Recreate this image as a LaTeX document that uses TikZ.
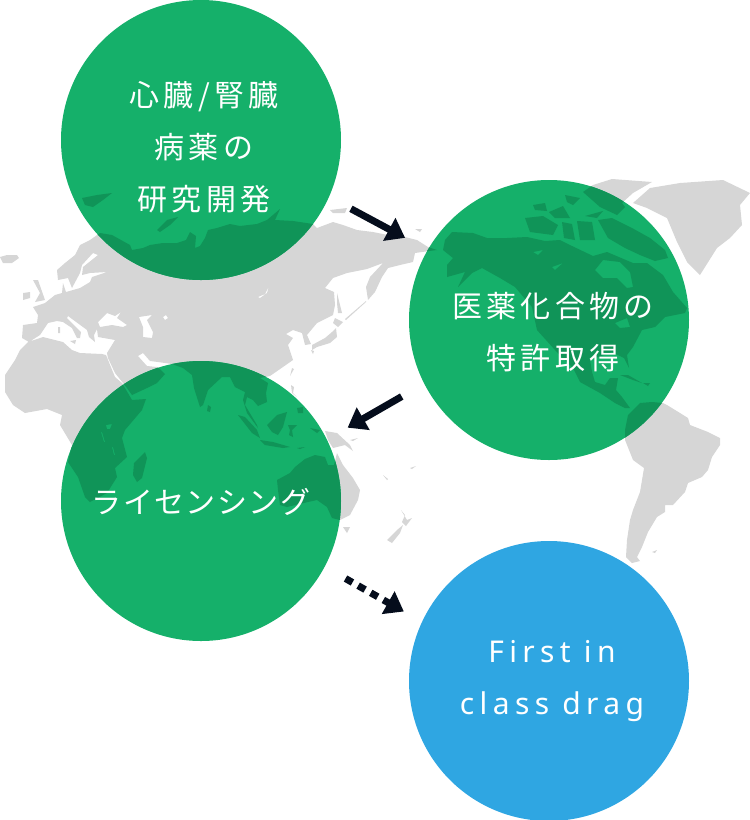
\documentclass[tikz,border=0pt]{standalone}
\usepackage{fontspec}
\usetikzlibrary{arrows.meta}
\newfontfamily\jpfont[LetterSpace=14.5]{Noto Sans CJK JP}
\newfontfamily\jpkanafont[LetterSpace=4.5]{Noto Sans CJK JP}
\newfontfamily\enfont[LetterSpace=18]{Noto Sans}
\definecolor{inkland}{HTML}{D6D6D6}
\definecolor{inkball}{HTML}{15B06A}
\definecolor{inkballdark}{HTML}{109458}
\definecolor{inkfirst}{HTML}{2FA6E2}
\definecolor{inkarrow}{HTML}{050D1C}
\newcommand{\ballnode}[3]{%
  \node[circle, fill=#3, minimum size=280pt, inner sep=0pt, outer sep=0pt] (#1) at (#2) {};}
\newcommand{\worldmap}[1]{%
  \fill[#1, even odd rule]
  (23,325) -- (37,323) -- (38,315) -- (33,307) -- (45,303) -- (55,295) -- (62,293) -- (63,283) -- (66,292) -- (80,288) -- (90,282) -- (92,277) -- (107,272) -- (90,273) -- (82,275) -- (83,267) -- (98,255) -- (93,253) -- (82,265) -- (80,273) -- (72,288) -- (68,278) -- (58,280) -- (57,270) -- (65,263) -- (75,255) -- (80,245) -- (90,240) -- (100,233) -- (112,235) -- (130,245) -- (132,250)
  -- (143,248) -- (150,245) -- (163,243) -- (177,243) -- (186,240) -- (190,232) -- (196,236) -- (195,248) -- (200,246) -- (205,238) -- (208,230) -- (217,228) -- (230,224) -- (240,226) -- (257,224) -- (267,220) -- (280,209) -- (275,220) -- (293,221) -- (313,224)
  -- (317,228) -- (333,222) -- (343,225) -- (357,230) -- (373,232) -- (393,236) -- (405,237) -- (417,240) -- (428,247) -- (437,250) -- (422,252) -- (415,253) -- (413,262) -- (400,265) -- (388,268) -- (382,277) -- (375,292) -- (368,300) -- (366,287) -- (370,277) -- (383,263) -- (367,269) -- (347,273) -- (333,278) -- (325,288) -- (334,292) -- (335,305) -- (333,315) -- (317,323) -- (307,335) -- (311,344) -- (305,345) -- (302,333) -- (293,330) -- (286,334) -- (293,338) -- (288,345) -- (293,360) -- (283,367) -- (270,376) -- (260,378) -- (268,383) -- (266,393) -- (267,402) -- (258,406) -- (253,400) -- (247,397) -- (245,405) -- (257,425) -- (258,428) -- (247,413) -- (243,400) -- (245,392) -- (235,387) -- (230,377) -- (222,377) -- (208,390) -- (203,405) -- (200,407) -- (194,388) -- (192,375) -- (183,368) -- (172,364) -- (158,362) -- (150,361) -- (143,353) -- (138,356) -- (147,366) -- (157,367) -- (160,369) -- (165,374) -- (157,383) -- (147,388) -- (132,395) -- (127,388) -- (115,373) -- (108,358) -- (107,353) -- (115,340) -- (98,337) -- (97,329) -- (94,335) -- (95,342) -- (89,337) -- (87,330) -- (68,316) -- (67,318) -- (81,332) -- (80,338) -- (77,338) -- (72,328) -- (63,322) -- (57,321) -- (48,323) -- (40,335) -- (29,342) -- (22,338) -- cycle
  (106,355) -- (115,377) -- (122,383) -- (132,400) -- (146,399) -- (142,410) -- (125,430) -- (122,438) -- (127,457) -- (115,468) -- (117,477) -- (107,493) -- (90,502) -- (85,497) -- (78,477) -- (68,462) -- (72,445) -- (60,425) -- (62,415) -- (47,409) -- (25,413) -- (13,405) -- (5,392) -- (5,375) -- (15,360) -- (20,350) -- (28,342) -- (43,337) -- (63,342) -- (72,350) -- (80,353) -- (102,354) -- cycle
  (98,322) -- (107,313) -- (115,316) -- (121,312) -- (117,318) -- (127,325) -- (123,327) -- (112,325) -- (100,327) -- cycle
  (139,317) -- (152,315) -- (147,320) -- (153,332) -- (152,338) -- (143,337) -- (143,327) -- cycle
  (163,317) -- (166,315) -- (168,318) -- (165,320) -- cycle
  (258,297) -- (265,294) -- (269,286) -- (267,293) -- (260,298) -- cycle
  (106,425) -- (112,424) -- (110,429) -- (107,429) -- cycle
  (101,432) -- (102,432) -- (105,442) -- (104,442) -- cycle
  (112,447) -- (113,447) -- (115,455) -- (114,455) -- cycle
  (0,257) -- (7,255) -- (17,255) -- (19,258) -- (12,263) -- (3,263) -- cycle
  (33,280) -- (38,280) -- (45,300) -- (35,302) -- (40,293) -- cycle
  (23,293) -- (30,292) -- (30,298) -- (23,300) -- cycle
  (58,327) -- (60,327) -- (60,333) -- (58,333) -- cycle
  (70,341) -- (76,340) -- (75,344) -- cycle
  (82,198) -- (97,195) -- (112,193) -- (103,200) -- (93,207) -- (85,205) -- cycle
  (157,230) -- (167,220) -- (178,217) -- (170,225) -- (160,232) -- cycle
  (330,210) -- (347,208) -- (345,213) -- (333,213) -- cycle
  (415,229) -- (422,229) -- (420,232) -- cycle
  (337,293) -- (340,305) -- (342,313) -- (338,313) -- (337,303) -- cycle
  (335,318) -- (343,322) -- (338,327) -- (333,323) -- cycle
  (336,328) -- (337,337) -- (330,343) -- (317,347) -- (312,350) -- (312,345) -- (325,338) -- (332,332) -- cycle
  (311,350) -- (314,351) -- (313,354) -- cycle
  (345,319) -- (366,301) -- (366,302) -- (346,320) -- cycle
  (292,368) -- (294,369) -- (290,376) -- cycle
  (291,385) -- (294,387) -- (293,393) -- (297,397) -- (292,393) -- cycle
  (297,408) -- (303,407) -- (303,413) -- (298,413) -- cycle
  (267,425) -- (277,415) -- (287,412) -- (283,427) -- (278,435) -- (272,432) -- cycle
  (238,415) -- (245,417) -- (257,430) -- (260,438) -- (252,433) -- cycle
  (260,440) -- (273,442) -- (290,447) -- (283,448) -- (265,445) -- cycle
  (288,425) -- (297,425) -- (292,430) -- (293,437) -- (289,435) -- (290,430) -- cycle
  (297,448) -- (305,447) -- (300,449) -- cycle
  (310,428) -- (320,430) -- (317,433) -- cycle
  (325,431) -- (337,433) -- (350,445) -- (353,451) -- (345,445) -- (333,448) -- (328,440) -- cycle
  (350,440) -- (358,438) -- (353,441) -- cycle
  (277,480) -- (290,473) -- (295,467) -- (305,459) -- (315,455) -- (325,457) -- (328,465) -- (334,465) -- (337,453) -- (343,465) -- (353,478) -- (360,490) -- (358,500) -- (350,515) -- (340,520) -- (332,518) -- (327,507) -- (317,500) -- (308,502) -- (287,507) -- (280,505) -- (278,490) -- cycle
  (343,527) -- (350,527) -- (347,533) -- cycle
  (387,540) -- (397,530) -- (403,525) -- (400,533) -- (392,543) -- cycle
  (401,510) -- (407,520) -- (412,518) -- (406,526) -- (402,522) -- (405,515) -- cycle
  (410,468) -- (416,466) -- (412,469) -- cycle
  (383,475) -- (388,479) -- (387,480) -- cycle
  (134,463) -- (145,452) -- (147,458) -- (142,478) -- (137,482) -- (133,475) -- cycle
  (208,405) -- (211,407) -- (210,412) -- (207,411) -- cycle
  (445,240) -- (452,232) -- (473,233) -- (487,238) -- (507,238) -- (527,237) -- (545,241) -- (560,240) -- (572,246) -- (593,256) -- (607,252) -- (633,263) -- (647,263) -- (663,275) -- (673,292) -- (687,308) -- (685,313) -- (665,317) -- (655,327) -- (642,330) -- (633,347) -- (627,355) -- (629,368) -- (624,358) -- (612,352) -- (590,360) -- (592,372) -- (595,382) -- (605,385) -- (610,378) -- (618,378) -- (616,390) -- (622,397) -- (630,408) -- (625,408) -- (615,403) -- (600,393) -- (580,382) -- (573,368) -- (555,350) -- (537,330) -- (532,307) -- (515,287) -- (500,278) -- (482,268) -- (472,273) -- (458,287) -- (465,272) -- (447,277) -- (447,265) -- (453,258) -- (443,250) -- cycle
  (595,270) -- (603,260) -- (620,262) -- (630,272) -- (633,287) -- (627,288) -- (617,278) -- (603,278) -- cycle
  (533,252) -- (543,250) -- (538,255) -- cycle
  (552,267) -- (563,263) -- (555,270) -- cycle
  (615,323) -- (627,318) -- (630,327) -- (620,328) -- cycle
  (525,218) -- (543,216) -- (558,225) -- (553,235) -- (530,232) -- cycle
  (533,205) -- (545,203) -- (547,211) -- (535,210) -- cycle
  (562,222) -- (572,224) -- (575,240) -- (564,238) -- cycle
  (565,195) -- (580,198) -- (573,205) -- (567,202) -- cycle
  (598,220) -- (612,218) -- (632,228) -- (650,238) -- (665,250) -- (668,258) -- (655,261) -- (640,255) -- (625,248) -- (608,238) -- cycle
  (583,192) -- (593,185) -- (612,179) -- (652,182) -- (633,193) -- (622,203) -- (625,207) -- (617,215) -- (600,207) -- cycle
  (585,216) -- (603,211) -- (597,218) -- cycle
  (549,212) -- (563,206) -- (570,218) -- (555,218) -- cycle
  (577,221) -- (592,222) -- (595,240) -- (580,240) -- cycle
  (633,203) -- (650,188) -- (680,183) -- (723,180) -- (750,193) -- (740,205) -- (742,225) -- (730,238) -- (717,248) -- (700,275) -- (687,262) -- (677,242) -- (667,218) -- (647,208) -- cycle
  (620,375) -- (628,375) -- (642,383) -- (633,380) -- cycle
  (643,383) -- (650,383) -- (648,386) -- cycle
  (628,415) -- (640,403) -- (652,402) -- (663,403) -- (667,405) -- (680,413) -- (688,418) -- (690,425) -- (708,432) -- (720,438) -- (720,445) -- (712,457) -- (708,470) -- (702,477) -- (688,483) -- (685,492) -- (673,505) -- (665,505) -- (665,512) -- (657,517) -- (648,532) -- (642,547) -- (637,557) -- (640,561) -- (632,563) -- (626,557) -- (627,540) -- (630,520) -- (633,510) -- (640,492) -- (644,468) -- (633,460) -- (625,440) -- (625,430) -- cycle
  (652,552) -- (657,550) -- (655,553) -- cycle;}
\begin{document}
\begin{tikzpicture}[x=1pt, y=-1pt,
    balltext/.style={text=white, align=center, inner sep=0pt},
    flowarrow/.style={-{Triangle[length=18pt, width=25pt]}, inkarrow, line width=7pt}]
      \useasboundingbox (0,0) rectangle (750,820);
      \worldmap{inkland}
      \ballnode{rd}{201,140}{inkball}
      \ballnode{patent}{549,320}{inkball}
      \ballnode{license}{201,501}{inkball}
      \ballnode{drug}{549,681}{inkfirst}
      \foreach \ballname in {rd,patent,license}{
        \begin{scope}
          \clip (\ballname) circle (140);
          \worldmap{inkballdark}
        \end{scope}}
      \node[balltext, font=\jpfont\fontsize{30}{52}\selectfont] (rdtext) at (204,147)
        {心臓/腎臓\\病薬の\\研究開発};
      \node[balltext, font=\jpfont\fontsize{30}{52}\selectfont] (patenttext) at (553,332)
        {医薬化合物の\\特許取得};
      \node[balltext, font=\jpkanafont\fontsize{30}{52}\selectfont] (licensetext) at (201,502)
        {ライセンシング};
      \node[balltext, font=\enfont\fontsize{30}{52}\selectfont] (drugtext) at (552,681)
        {First in\\class drag};
      \draw[flowarrow, shorten <=25pt, shorten >=25.7pt] (rd.-24.2) -- (patent.150.3);
      \draw[flowarrow, shorten <=26pt, shorten >=24pt] (patent.207.6) -- (license.26.4);
      \draw[flowarrow, dash pattern=on 8pt off 6.5pt, shorten <=24pt, shorten >=21pt] (license.-28.7) -- (drug.155);
    \end{tikzpicture}
\end{document}
